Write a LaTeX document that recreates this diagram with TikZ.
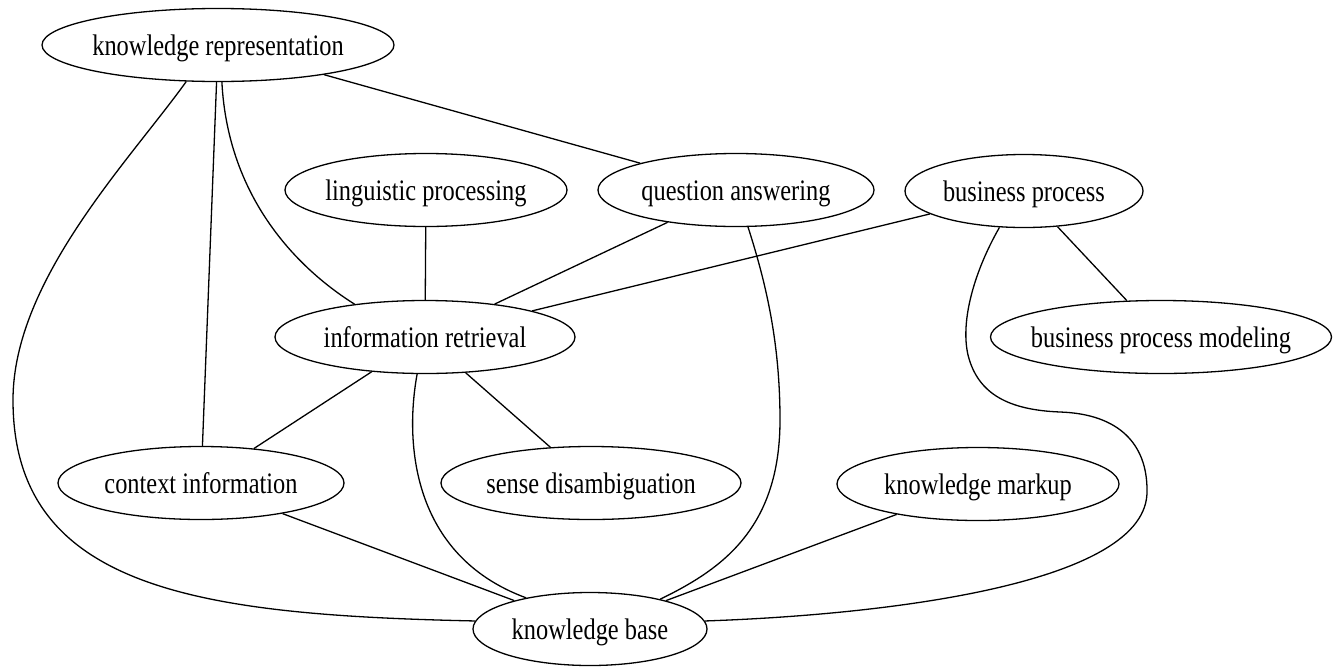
\documentclass[tikz,border=0pt]{standalone}
\usepackage{fontspec}
\setmainfont{Liberation Serif}
\usetikzlibrary{shapes.geometric}
\newcommand{\lbl}[1]{\makebox[0pt]{\scalebox{1}[1.22]{#1}}}
\begin{document}
\begin{tikzpicture}[x=1pt,y=-1pt]
\tikzset{
  ent/.style={ellipse, draw, line width=1.3pt, inner sep=0pt, minimum height=73pt,
    text height=21pt, text depth=0pt, font=\fontsize{24.4}{29}\selectfont},
  conn/.style={line width=1.3pt}
}
\useasboundingbox (0,0) rectangle (1333,667);
\node[ent, minimum width=352pt] (kr)  at (218,45)  {\lbl{knowledge representation}};
\node[ent, minimum width=282pt] (lp)  at (426,190) {\lbl{linguistic processing}};
\node[ent, minimum width=276pt] (qa)  at (736,190) {\lbl{question answering}};
\node[ent, minimum width=238pt] (bp)  at (1024,191) {\lbl{business process}};
\node[ent, minimum width=300pt] (ir)  at (425,337) {\lbl{information retrieval}};
\node[ent, minimum width=341pt] (bpm) at (1161,337) {\lbl{business process modeling}};
\node[ent, minimum width=286pt] (ci)  at (201,483) {\lbl{context information}};
\node[ent, minimum width=300pt] (sd)  at (591,483) {\lbl{sense disambiguation}};
\node[ent, minimum width=282pt] (km)  at (978,484) {\lbl{knowledge markup}};
\node[ent, minimum width=234pt] (kb)  at (590,629) {\lbl{knowledge base}};

\draw[conn] (kr) -- (qa);
\draw[conn] (kr) -- (ci);
\draw[conn] (lp) -- (ir);
\draw[conn] (qa) -- (ir);
\draw[conn] (bp) -- (ir);
\draw[conn] (bp) -- (bpm);
\draw[conn] (ir) -- (ci);
\draw[conn] (ir) -- (sd);
\draw[conn] (ci) -- (kb);
\draw[conn] (km) -- (kb);

\draw[conn] (kr.-84) .. controls (228,200) and (300,270) .. (ir.155);
\draw[conn] (kr.-131) .. controls (130,160) and (13,280) .. (13,400)
  .. controls (13,590) and (200,615) .. (kb.176);
\draw[conn] (ir.-102) .. controls (405,440) and (410,555) .. (kb.154);
\draw[conn] (qa.-72) .. controls (765,280) and (780,340) .. (780,420)
  .. controls (780,530) and (720,570) .. (kb.23);
\draw[conn] (bp.-124) .. controls (975,270) and (960,320) .. (968,355)
  .. controls (978,395) and (1010,410) .. (1060,412)
  .. controls (1120,414) and (1147,445) .. (1147,490)
  .. controls (1150,585) and (880,615) .. (kb.4);
\end{tikzpicture}
\end{document}
